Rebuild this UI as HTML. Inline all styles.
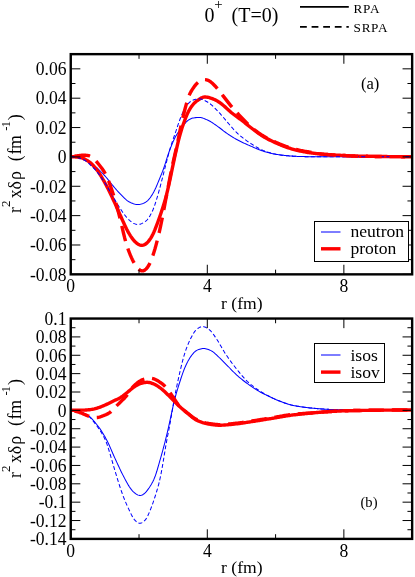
<!DOCTYPE html>
<html><head><meta charset="utf-8"><title>plot</title>
<style>
html,body{margin:0;padding:0;background:#fff;}
body{width:415px;height:577px;overflow:hidden;}
svg{display:block;will-change:transform;}
text{font-family:"Liberation Serif",serif;fill:#000;}
</style></head><body>
<svg width="415" height="577" viewBox="0 0 415 577">
<rect width="415" height="577" fill="#fff"/>
<text x="204.5" y="21.7" font-size="20">0</text>
<text x="214.2" y="9.4" font-size="14.8">+</text>
<text x="231.5" y="21.7" font-size="20">(T=0)</text>
<path d="M300,6.9H348.8" stroke="#000" stroke-width="1.8"/>
<path d="M300,26.9H348.8" stroke="#000" stroke-width="1.8" stroke-dasharray="6.8 4.8"/>
<text x="353.6" y="12.6" font-size="13.2" letter-spacing="0.7">RPA</text>
<text x="353.6" y="31.6" font-size="13.2" letter-spacing="0.7">SRPA</text>
<clipPath id="c1"><rect x="70.75" y="54.15" width="341.4" height="220.20000000000002"/></clipPath>
<g clip-path="url(#c1)" fill="none" stroke-linejoin="round">
<path d="M71.00,156.69 L71.97,156.72 L72.95,156.78 L73.92,156.87 L74.90,156.99 L75.87,157.14 L76.85,157.32 L77.82,157.51 L78.80,157.72 L79.77,157.94 L80.75,158.17 L81.72,158.43 L82.70,158.71 L83.67,159.05 L84.65,159.46 L85.62,159.93 L86.60,160.45 L87.57,161.03 L88.55,161.64 L89.52,162.29 L90.50,162.96 L91.47,163.66 L92.45,164.36 L93.42,165.07 L94.40,165.80 L95.37,166.56 L96.35,167.37 L97.32,168.22 L98.30,169.12 L99.27,170.05 L100.25,171.01 L101.22,172.00 L102.20,173.01 L103.17,174.03 L104.15,175.08 L105.12,176.14 L106.10,177.25 L107.07,178.40 L108.05,179.59 L109.02,180.82 L110.00,182.05 L110.97,183.28 L111.95,184.49 L112.92,185.67 L113.90,186.82 L114.87,187.96 L115.85,189.10 L116.82,190.22 L117.80,191.32 L118.77,192.39 L119.75,193.43 L120.72,194.43 L121.70,195.40 L122.67,196.36 L123.65,197.32 L124.62,198.26 L125.60,199.17 L126.57,200.03 L127.55,200.80 L128.52,201.47 L129.50,202.04 L130.47,202.52 L131.45,202.94 L132.42,203.32 L133.40,203.68 L134.37,204.00 L135.35,204.26 L136.32,204.45 L137.30,204.56 L138.27,204.58 L139.25,204.51 L140.22,204.34 L141.20,204.09 L142.17,203.77 L143.15,203.40 L144.12,202.98 L145.10,202.50 L146.07,201.93 L147.05,201.20 L148.02,200.28 L149.00,199.18 L149.97,197.95 L150.95,196.59 L151.92,195.12 L152.90,193.51 L153.87,191.75 L154.85,189.83 L155.82,187.74 L156.80,185.48 L157.77,183.12 L158.75,180.71 L159.72,178.34 L160.70,176.00 L161.67,173.63 L162.65,171.16 L163.62,168.49 L164.60,165.61 L165.57,162.56 L166.55,159.45 L167.52,156.40 L168.50,153.50 L169.47,150.77 L170.45,148.18 L171.42,145.71 L172.40,143.34 L173.37,141.10 L174.35,139.01 L175.32,137.10 L176.30,135.36 L177.27,133.79 L178.25,132.35 L179.22,131.00 L180.20,129.71 L181.17,128.45 L182.15,127.17 L183.12,125.87 L184.10,124.56 L185.07,123.31 L186.05,122.19 L187.02,121.23 L188.00,120.43 L188.97,119.75 L189.95,119.17 L190.92,118.71 L191.90,118.35 L192.87,118.10 L193.85,117.91 L194.82,117.76 L195.80,117.63 L196.77,117.52 L197.75,117.44 L198.72,117.40 L199.70,117.43 L200.67,117.54 L201.65,117.73 L202.62,118.01 L203.60,118.36 L204.57,118.76 L205.55,119.18 L206.52,119.61 L207.50,120.06 L208.47,120.52 L209.45,121.01 L210.42,121.55 L211.40,122.14 L212.37,122.76 L213.35,123.41 L214.32,124.08 L215.30,124.76 L216.27,125.44 L217.25,126.12 L218.22,126.81 L219.20,127.52 L220.17,128.25 L221.15,129.00 L222.12,129.76 L223.10,130.53 L224.07,131.28 L225.05,132.02 L226.02,132.73 L227.00,133.43 L227.97,134.10 L228.95,134.75 L229.92,135.39 L230.90,136.03 L231.87,136.65 L232.85,137.26 L233.82,137.85 L234.80,138.43 L235.77,138.98 L236.75,139.52 L237.72,140.05 L238.70,140.56 L239.67,141.05 L240.65,141.54 L241.62,142.01 L242.60,142.48 L243.57,142.93 L244.55,143.38 L245.52,143.83 L246.50,144.26 L247.47,144.69 L248.45,145.12 L249.42,145.55 L250.40,145.97 L251.37,146.40 L252.35,146.83 L253.32,147.26 L254.30,147.68 L255.27,148.10 L256.25,148.52 L257.22,148.93 L258.20,149.33 L259.17,149.71 L260.15,150.09 L261.12,150.45 L262.10,150.79 L263.07,151.11 L264.05,151.41 L265.02,151.71 L266.00,151.99 L266.97,152.26 L267.95,152.52 L268.92,152.78 L269.90,153.03 L270.87,153.26 L271.85,153.49 L272.82,153.70 L273.80,153.90 L274.77,154.08 L275.75,154.26 L276.72,154.42 L277.70,154.57 L278.67,154.72 L279.65,154.86 L280.62,155.00 L281.60,155.13 L282.57,155.25 L283.55,155.36 L284.52,155.47 L285.50,155.57 L286.47,155.67 L287.45,155.75 L288.42,155.83 L289.40,155.91 L290.37,155.98 L291.35,156.05 L292.32,156.12 L293.30,156.19 L294.27,156.25 L295.25,156.30 L296.22,156.36 L297.20,156.40 L298.17,156.44 L299.15,156.47 L300.12,156.50 L301.10,156.53 L302.07,156.55 L303.05,156.57 L304.02,156.60 L305.00,156.62 L305.97,156.64 L306.95,156.66 L307.92,156.68 L308.90,156.69 L309.87,156.71 L310.85,156.73 L311.82,156.74 L312.80,156.75 L313.77,156.76 L314.75,156.77 L315.72,156.78 L316.70,156.79 L317.67,156.79 L318.65,156.80 L319.62,156.80 L320.60,156.80 L321.57,156.80 L322.55,156.80 L323.52,156.80 L324.50,156.80 L325.47,156.80 L326.45,156.80 L327.42,156.80 L328.40,156.80 L329.37,156.80 L330.35,156.80 L331.32,156.80 L332.30,156.80 L333.27,156.80 L334.25,156.80 L335.22,156.80 L336.20,156.80 L337.17,156.80 L338.15,156.80 L339.12,156.80 L340.10,156.80 L341.07,156.80 L342.05,156.80 L343.02,156.80 L343.99,156.80 L344.97,156.80 L345.94,156.80 L346.92,156.80 L347.89,156.80 L348.87,156.80 L349.84,156.80 L350.82,156.80 L351.79,156.80 L352.77,156.80 L353.74,156.80 L354.72,156.80 L355.69,156.79 L356.67,156.79 L357.64,156.79 L358.62,156.79 L359.59,156.79 L360.57,156.79 L361.54,156.79 L362.52,156.79 L363.49,156.79 L364.47,156.79 L365.44,156.79 L366.42,156.78 L367.39,156.78 L368.37,156.78 L369.34,156.78 L370.32,156.78 L371.29,156.78 L372.27,156.78 L373.24,156.78 L374.22,156.77 L375.19,156.77 L376.17,156.77 L377.14,156.77 L378.12,156.77 L379.09,156.77 L380.07,156.77 L381.04,156.76 L382.02,156.76 L382.99,156.76 L383.97,156.76 L384.94,156.76 L385.92,156.76 L386.89,156.75 L387.87,156.75 L388.84,156.75 L389.82,156.75 L390.79,156.75 L391.77,156.75 L392.74,156.74 L393.72,156.74 L394.69,156.74 L395.67,156.74 L396.64,156.74 L397.62,156.73 L398.59,156.73 L399.57,156.73 L400.54,156.73 L401.52,156.72 L402.49,156.72 L403.47,156.72 L404.44,156.72 L405.42,156.72 L406.39,156.71 L407.37,156.71 L408.34,156.71 L409.32,156.71 L410.29,156.70 L411.27,156.70" stroke="#00f" stroke-width="1.02"/>
<path d="M71.00,156.70 L71.97,156.72 L72.95,156.75 L73.92,156.80 L74.90,156.88 L75.87,156.97 L76.85,157.07 L77.82,157.18 L78.80,157.31 L79.77,157.46 L80.75,157.66 L81.72,157.92 L82.70,158.25 L83.67,158.65 L84.65,159.11 L85.62,159.61 L86.60,160.16 L87.57,160.74 L88.55,161.37 L89.52,162.07 L90.50,162.86 L91.47,163.74 L92.45,164.71 L93.42,165.75 L94.40,166.85 L95.37,167.99 L96.35,169.18 L97.32,170.45 L98.30,171.79 L99.27,173.23 L100.25,174.76 L101.22,176.36 L102.20,178.02 L103.17,179.72 L104.15,181.45 L105.12,183.21 L106.10,185.01 L107.07,186.87 L108.05,188.79 L109.02,190.75 L110.00,192.76 L110.97,194.79 L111.95,196.84 L112.92,198.91 L113.90,201.01 L114.87,203.14 L115.85,205.32 L116.82,207.52 L117.80,209.73 L118.77,211.94 L119.75,214.13 L120.72,216.30 L121.70,218.45 L122.67,220.60 L123.65,222.74 L124.62,224.87 L125.60,226.94 L126.57,228.93 L127.55,230.81 L128.52,232.57 L129.50,234.24 L130.47,235.82 L131.45,237.31 L132.42,238.67 L133.40,239.91 L134.37,241.01 L135.35,241.98 L136.32,242.84 L137.30,243.59 L138.27,244.21 L139.25,244.72 L140.22,245.10 L141.20,245.31 L142.17,245.33 L143.15,245.16 L144.12,244.83 L145.10,244.36 L146.07,243.72 L147.05,242.89 L148.02,241.88 L149.00,240.71 L149.97,239.36 L150.95,237.84 L151.92,236.13 L152.90,234.24 L153.87,232.17 L154.85,229.92 L155.82,227.48 L156.80,224.90 L157.77,222.23 L158.75,219.50 L159.72,216.74 L160.70,213.94 L161.67,211.07 L162.65,208.11 L163.62,205.04 L164.60,201.82 L165.57,198.40 L166.55,194.71 L167.52,190.70 L168.50,186.41 L169.47,181.90 L170.45,177.30 L171.42,172.64 L172.40,167.97 L173.37,163.30 L174.35,158.68 L175.32,154.16 L176.30,149.76 L177.27,145.51 L178.25,141.42 L179.22,137.57 L180.20,133.98 L181.17,130.66 L182.15,127.58 L183.12,124.69 L184.10,121.97 L185.07,119.38 L186.05,116.90 L187.02,114.57 L188.00,112.44 L188.97,110.53 L189.95,108.85 L190.92,107.35 L191.90,105.99 L192.87,104.75 L193.85,103.62 L194.82,102.62 L195.80,101.74 L196.77,100.96 L197.75,100.26 L198.72,99.59 L199.70,98.96 L200.67,98.38 L201.65,97.88 L202.62,97.48 L203.60,97.19 L204.57,97.04 L205.55,97.01 L206.52,97.09 L207.50,97.24 L208.47,97.45 L209.45,97.71 L210.42,98.01 L211.40,98.35 L212.37,98.70 L213.35,99.08 L214.32,99.47 L215.30,99.90 L216.27,100.38 L217.25,100.93 L218.22,101.56 L219.20,102.24 L220.17,102.96 L221.15,103.70 L222.12,104.46 L223.10,105.23 L224.07,106.04 L225.05,106.88 L226.02,107.75 L227.00,108.64 L227.97,109.54 L228.95,110.44 L229.92,111.31 L230.90,112.16 L231.87,112.97 L232.85,113.75 L233.82,114.49 L234.80,115.22 L235.77,115.94 L236.75,116.64 L237.72,117.34 L238.70,118.05 L239.67,118.76 L240.65,119.48 L241.62,120.22 L242.60,120.98 L243.57,121.75 L244.55,122.54 L245.52,123.33 L246.50,124.13 L247.47,124.92 L248.45,125.72 L249.42,126.50 L250.40,127.27 L251.37,128.02 L252.35,128.76 L253.32,129.50 L254.30,130.23 L255.27,130.96 L256.25,131.68 L257.22,132.40 L258.20,133.10 L259.17,133.80 L260.15,134.47 L261.12,135.13 L262.10,135.77 L263.07,136.38 L264.05,136.97 L265.02,137.53 L266.00,138.08 L266.97,138.61 L267.95,139.12 L268.92,139.62 L269.90,140.11 L270.87,140.59 L271.85,141.06 L272.82,141.51 L273.80,141.96 L274.77,142.41 L275.75,142.84 L276.72,143.28 L277.70,143.70 L278.67,144.13 L279.65,144.55 L280.62,144.96 L281.60,145.36 L282.57,145.76 L283.55,146.14 L284.52,146.51 L285.50,146.87 L286.47,147.22 L287.45,147.55 L288.42,147.87 L289.40,148.18 L290.37,148.47 L291.35,148.76 L292.32,149.04 L293.30,149.32 L294.27,149.58 L295.25,149.84 L296.22,150.08 L297.20,150.32 L298.17,150.55 L299.15,150.77 L300.12,150.98 L301.10,151.19 L302.07,151.39 L303.05,151.58 L304.02,151.77 L305.00,151.95 L305.97,152.13 L306.95,152.30 L307.92,152.46 L308.90,152.62 L309.87,152.76 L310.85,152.90 L311.82,153.04 L312.80,153.16 L313.77,153.28 L314.75,153.40 L315.72,153.50 L316.70,153.61 L317.67,153.71 L318.65,153.81 L319.62,153.90 L320.60,153.99 L321.57,154.07 L322.55,154.16 L323.52,154.24 L324.50,154.32 L325.47,154.39 L326.45,154.46 L327.42,154.53 L328.40,154.60 L329.37,154.67 L330.35,154.73 L331.32,154.80 L332.30,154.86 L333.27,154.92 L334.25,154.98 L335.22,155.04 L336.20,155.09 L337.17,155.15 L338.15,155.20 L339.12,155.25 L340.10,155.31 L341.07,155.36 L342.05,155.41 L343.02,155.46 L343.99,155.52 L344.97,155.57 L345.94,155.63 L346.92,155.68 L347.89,155.73 L348.87,155.78 L349.84,155.83 L350.82,155.88 L351.79,155.93 L352.77,155.97 L353.74,156.01 L354.72,156.05 L355.69,156.08 L356.67,156.12 L357.64,156.15 L358.62,156.17 L359.59,156.19 L360.57,156.21 L361.54,156.23 L362.52,156.24 L363.49,156.26 L364.47,156.28 L365.44,156.29 L366.42,156.31 L367.39,156.32 L368.37,156.34 L369.34,156.35 L370.32,156.37 L371.29,156.38 L372.27,156.40 L373.24,156.41 L374.22,156.42 L375.19,156.44 L376.17,156.45 L377.14,156.46 L378.12,156.47 L379.09,156.49 L380.07,156.50 L381.04,156.51 L382.02,156.52 L382.99,156.53 L383.97,156.54 L384.94,156.55 L385.92,156.56 L386.89,156.57 L387.87,156.58 L388.84,156.59 L389.82,156.60 L390.79,156.61 L391.77,156.62 L392.74,156.62 L393.72,156.63 L394.69,156.64 L395.67,156.64 L396.64,156.65 L397.62,156.66 L398.59,156.66 L399.57,156.67 L400.54,156.67 L401.52,156.68 L402.49,156.68 L403.47,156.68 L404.44,156.69 L405.42,156.69 L406.39,156.69 L407.37,156.70 L408.34,156.70 L409.32,156.70 L410.29,156.70 L411.27,156.70" stroke="#f00" stroke-width="3.4"/>
<path d="M71.00,156.69 L71.97,156.73 L72.95,156.80 L73.92,156.92 L74.90,157.07 L75.87,157.26 L76.85,157.48 L77.82,157.73 L78.80,158.00 L79.77,158.28 L80.75,158.58 L81.72,158.90 L82.70,159.28 L83.67,159.73 L84.65,160.27 L85.62,160.90 L86.60,161.61 L87.57,162.39 L88.55,163.23 L89.52,164.12 L90.50,165.04 L91.47,165.98 L92.45,166.94 L93.42,167.91 L94.40,168.91 L95.37,169.96 L96.35,171.06 L97.32,172.24 L98.30,173.47 L99.27,174.75 L100.25,176.08 L101.22,177.45 L102.20,178.85 L103.17,180.27 L104.15,181.72 L105.12,183.20 L106.10,184.73 L107.07,186.33 L108.05,187.99 L109.02,189.69 L110.00,191.42 L110.97,193.14 L111.95,194.85 L112.92,196.53 L113.90,198.18 L114.87,199.84 L115.85,201.49 L116.82,203.13 L117.80,204.75 L118.77,206.34 L119.75,207.88 L120.72,209.36 L121.70,210.79 L122.67,212.17 L123.65,213.51 L124.62,214.81 L125.60,216.05 L126.57,217.22 L127.55,218.32 L128.52,219.35 L129.50,220.32 L130.47,221.21 L131.45,222.00 L132.42,222.66 L133.40,223.20 L134.37,223.64 L135.35,223.99 L136.32,224.27 L137.30,224.44 L138.27,224.47 L139.25,224.37 L140.22,224.15 L141.20,223.80 L142.17,223.37 L143.15,222.86 L144.12,222.30 L145.10,221.67 L146.07,220.92 L147.05,220.00 L148.02,218.85 L149.00,217.46 L149.97,215.87 L150.95,214.10 L151.92,212.14 L152.90,209.95 L153.87,207.47 L154.85,204.74 L155.82,201.79 L156.80,198.67 L157.77,195.39 L158.75,191.94 L159.72,188.34 L160.70,184.64 L161.67,180.89 L162.65,177.11 L163.62,173.30 L164.60,169.47 L165.57,165.65 L166.55,161.83 L167.52,158.05 L168.50,154.34 L169.47,150.79 L170.45,147.45 L171.42,144.32 L172.40,141.37 L173.37,138.54 L174.35,135.74 L175.32,132.92 L176.30,130.04 L177.27,127.11 L178.25,124.20 L179.22,121.39 L180.20,118.76 L181.17,116.31 L182.15,114.01 L183.12,111.84 L184.10,109.83 L185.07,108.00 L186.05,106.41 L187.02,105.05 L188.00,103.88 L188.97,102.86 L189.95,101.97 L190.92,101.24 L191.90,100.65 L192.87,100.20 L193.85,99.85 L194.82,99.54 L195.80,99.28 L196.77,99.06 L197.75,98.90 L198.72,98.82 L199.70,98.83 L200.67,98.95 L201.65,99.19 L202.62,99.52 L203.60,99.94 L204.57,100.41 L205.55,100.93 L206.52,101.46 L207.50,102.02 L208.47,102.61 L209.45,103.27 L210.42,104.00 L211.40,104.82 L212.37,105.69 L213.35,106.62 L214.32,107.58 L215.30,108.56 L216.27,109.54 L217.25,110.54 L218.22,111.55 L219.20,112.59 L220.17,113.67 L221.15,114.79 L222.12,115.93 L223.10,117.08 L224.07,118.25 L225.05,119.40 L226.02,120.55 L227.00,121.68 L227.97,122.82 L228.95,123.96 L229.92,125.11 L230.90,126.26 L231.87,127.41 L232.85,128.54 L233.82,129.64 L234.80,130.69 L235.77,131.69 L236.75,132.64 L237.72,133.54 L238.70,134.42 L239.67,135.26 L240.65,136.09 L241.62,136.89 L242.60,137.67 L243.57,138.44 L244.55,139.18 L245.52,139.90 L246.50,140.61 L247.47,141.30 L248.45,141.97 L249.42,142.62 L250.40,143.26 L251.37,143.89 L252.35,144.52 L253.32,145.14 L254.30,145.75 L255.27,146.35 L256.25,146.93 L257.22,147.50 L258.20,148.05 L259.17,148.58 L260.15,149.08 L261.12,149.56 L262.10,150.01 L263.07,150.43 L264.05,150.82 L265.02,151.19 L266.00,151.54 L266.97,151.88 L267.95,152.21 L268.92,152.53 L269.90,152.83 L270.87,153.11 L271.85,153.38 L272.82,153.63 L273.80,153.86 L274.77,154.06 L275.75,154.25 L276.72,154.43 L277.70,154.59 L278.67,154.74 L279.65,154.88 L280.62,155.01 L281.60,155.14 L282.57,155.26 L283.55,155.38 L284.52,155.48 L285.50,155.58 L286.47,155.67 L287.45,155.75 L288.42,155.83 L289.40,155.91 L290.37,155.98 L291.35,156.05 L292.32,156.12 L293.30,156.19 L294.27,156.25 L295.25,156.30 L296.22,156.36 L297.20,156.40 L298.17,156.44 L299.15,156.47 L300.12,156.50 L301.10,156.53 L302.07,156.55 L303.05,156.57 L304.02,156.60 L305.00,156.62 L305.97,156.64 L306.95,156.66 L307.92,156.68 L308.90,156.69 L309.87,156.71 L310.85,156.73 L311.82,156.74 L312.80,156.75 L313.77,156.76 L314.75,156.77 L315.72,156.78 L316.70,156.79 L317.67,156.79 L318.65,156.80 L319.62,156.80 L320.60,156.80 L321.57,156.80 L322.55,156.80 L323.52,156.80 L324.50,156.80 L325.47,156.80 L326.45,156.80 L327.42,156.80 L328.40,156.80 L329.37,156.80 L330.35,156.80 L331.32,156.80 L332.30,156.80 L333.27,156.80 L334.25,156.80 L335.22,156.80 L336.20,156.80 L337.17,156.80 L338.15,156.80 L339.12,156.80 L340.10,156.80 L341.07,156.80 L342.05,156.80 L343.02,156.80 L343.99,156.80 L344.97,156.80 L345.94,156.80 L346.92,156.80 L347.89,156.80 L348.87,156.80 L349.84,156.80 L350.82,156.80 L351.79,156.80 L352.77,156.80 L353.74,156.80 L354.72,156.79 L355.69,156.79 L356.67,156.79 L357.64,156.79 L358.62,156.79 L359.59,156.79 L360.57,156.79 L361.54,156.79 L362.52,156.79 L363.49,156.79 L364.47,156.79 L365.44,156.79 L366.42,156.79 L367.39,156.79 L368.37,156.79 L369.34,156.78 L370.32,156.78 L371.29,156.78 L372.27,156.78 L373.24,156.78 L374.22,156.78 L375.19,156.78 L376.17,156.78 L377.14,156.78 L378.12,156.77 L379.09,156.77 L380.07,156.77 L381.04,156.77 L382.02,156.77 L382.99,156.77 L383.97,156.77 L384.94,156.76 L385.92,156.76 L386.89,156.76 L387.87,156.76 L388.84,156.76 L389.82,156.76 L390.79,156.75 L391.77,156.75 L392.74,156.75 L393.72,156.75 L394.69,156.75 L395.67,156.74 L396.64,156.74 L397.62,156.74 L398.59,156.74 L399.57,156.74 L400.54,156.73 L401.52,156.73 L402.49,156.73 L403.47,156.73 L404.44,156.72 L405.42,156.72 L406.39,156.72 L407.37,156.71 L408.34,156.71 L409.32,156.71 L410.29,156.71 L411.27,156.70" stroke="#00f" stroke-width="1.02" stroke-dasharray="4 2.3"/>
<path d="M71.00,156.67 L71.97,156.54 L72.95,156.39 L73.92,156.24 L74.90,156.09 L75.87,155.95 L76.85,155.83 L77.82,155.72 L78.80,155.61 L79.77,155.50 L80.75,155.39 L81.72,155.31 L82.70,155.24 L83.67,155.21 L84.65,155.21 L85.62,155.26 L86.60,155.34 L87.57,155.47 L88.55,155.68 L89.52,155.99 L90.50,156.41 L91.47,156.96 L92.45,157.63 L93.42,158.42 L94.40,159.33 L95.37,160.33 L96.35,161.41 L97.32,162.57 L98.30,163.78 L99.27,165.02 L100.25,166.27 L101.22,167.53 L102.20,168.82 L103.17,170.20 L104.15,171.72 L105.12,173.42 L106.10,175.31 L107.07,177.38 L108.05,179.63 L109.02,182.07 L110.00,184.68 L110.97,187.44 L111.95,190.33 L112.92,193.33 L113.90,196.43 L114.87,199.65 L115.85,202.97 L116.82,206.39 L117.80,209.90 L118.77,213.53 L119.75,217.29 L120.72,221.22 L121.70,225.35 L122.67,229.58 L123.65,233.76 L124.62,237.72 L125.60,241.35 L126.57,244.65 L127.55,247.66 L128.52,250.43 L129.50,253.00 L130.47,255.40 L131.45,257.63 L132.42,259.70 L133.40,261.62 L134.37,263.41 L135.35,265.05 L136.32,266.51 L137.30,267.75 L138.27,268.76 L139.25,269.59 L140.22,270.25 L141.20,270.72 L142.17,270.92 L143.15,270.83 L144.12,270.45 L145.10,269.82 L146.07,268.99 L147.05,267.93 L148.02,266.59 L149.00,264.90 L149.97,262.88 L150.95,260.59 L151.92,258.09 L152.90,255.40 L153.87,252.48 L154.85,249.30 L155.82,245.85 L156.80,242.18 L157.77,238.32 L158.75,234.31 L159.72,230.11 L160.70,225.70 L161.67,221.02 L162.65,216.08 L163.62,210.96 L164.60,205.75 L165.57,200.54 L166.55,195.38 L167.52,190.28 L168.50,185.20 L169.47,180.14 L170.45,175.14 L171.42,170.27 L172.40,165.57 L173.37,161.08 L174.35,156.78 L175.32,152.56 L176.30,148.31 L177.27,143.90 L178.25,139.27 L179.22,134.46 L180.20,129.61 L181.17,124.91 L182.15,120.48 L183.12,116.35 L184.10,112.48 L185.07,108.76 L186.05,105.16 L187.02,101.70 L188.00,98.53 L188.97,95.80 L189.95,93.58 L190.92,91.76 L191.90,90.16 L192.87,88.66 L193.85,87.21 L194.82,85.85 L195.80,84.61 L196.77,83.55 L197.75,82.65 L198.72,81.88 L199.70,81.23 L200.67,80.68 L201.65,80.21 L202.62,79.84 L203.60,79.61 L204.57,79.54 L205.55,79.62 L206.52,79.82 L207.50,80.11 L208.47,80.51 L209.45,81.04 L210.42,81.70 L211.40,82.48 L212.37,83.34 L213.35,84.25 L214.32,85.21 L215.30,86.22 L216.27,87.31 L217.25,88.47 L218.22,89.68 L219.20,90.93 L220.17,92.18 L221.15,93.43 L222.12,94.67 L223.10,95.90 L224.07,97.13 L225.05,98.38 L226.02,99.63 L227.00,100.89 L227.97,102.14 L228.95,103.38 L229.92,104.60 L230.90,105.80 L231.87,106.96 L232.85,108.10 L233.82,109.21 L234.80,110.31 L235.77,111.39 L236.75,112.46 L237.72,113.51 L238.70,114.55 L239.67,115.58 L240.65,116.61 L241.62,117.63 L242.60,118.65 L243.57,119.67 L244.55,120.69 L245.52,121.71 L246.50,122.72 L247.47,123.71 L248.45,124.67 L249.42,125.61 L250.40,126.50 L251.37,127.36 L252.35,128.19 L253.32,128.98 L254.30,129.74 L255.27,130.49 L256.25,131.22 L257.22,131.93 L258.20,132.62 L259.17,133.29 L260.15,133.94 L261.12,134.58 L262.10,135.19 L263.07,135.79 L264.05,136.37 L265.02,136.93 L266.00,137.48 L266.97,138.01 L267.95,138.52 L268.92,139.02 L269.90,139.51 L270.87,139.99 L271.85,140.46 L272.82,140.91 L273.80,141.36 L274.77,141.81 L275.75,142.24 L276.72,142.68 L277.70,143.10 L278.67,143.53 L279.65,143.95 L280.62,144.36 L281.60,144.76 L282.57,145.16 L283.55,145.54 L284.52,145.91 L285.50,146.27 L286.47,146.62 L287.45,146.95 L288.42,147.27 L289.40,147.58 L290.37,147.87 L291.35,148.16 L292.32,148.44 L293.30,148.72 L294.27,148.98 L295.25,149.24 L296.22,149.49 L297.20,149.72 L298.17,149.95 L299.15,150.17 L300.12,150.38 L301.10,150.58 L302.07,150.78 L303.05,150.96 L304.02,151.14 L305.00,151.31 L305.97,151.48 L306.95,151.64 L307.92,151.80 L308.90,151.96 L309.87,152.11 L310.85,152.27 L311.82,152.42 L312.80,152.58 L313.77,152.74 L314.75,152.91 L315.72,153.07 L316.70,153.24 L317.67,153.40 L318.65,153.56 L319.62,153.71 L320.60,153.86 L321.57,153.99 L322.55,154.11 L323.52,154.22 L324.50,154.32 L325.47,154.40 L326.45,154.48 L327.42,154.56 L328.40,154.63 L329.37,154.70 L330.35,154.76 L331.32,154.82 L332.30,154.88 L333.27,154.94 L334.25,154.99 L335.22,155.05 L336.20,155.10 L337.17,155.15 L338.15,155.20 L339.12,155.25 L340.10,155.31 L341.07,155.36 L342.05,155.41 L343.02,155.46 L343.99,155.52 L344.97,155.57 L345.94,155.63 L346.92,155.68 L347.89,155.73 L348.87,155.78 L349.84,155.83 L350.82,155.88 L351.79,155.93 L352.77,155.97 L353.74,156.01 L354.72,156.05 L355.69,156.08 L356.67,156.12 L357.64,156.15 L358.62,156.17 L359.59,156.19 L360.57,156.21 L361.54,156.23 L362.52,156.24 L363.49,156.26 L364.47,156.28 L365.44,156.29 L366.42,156.31 L367.39,156.32 L368.37,156.34 L369.34,156.35 L370.32,156.37 L371.29,156.38 L372.27,156.40 L373.24,156.41 L374.22,156.42 L375.19,156.44 L376.17,156.45 L377.14,156.46 L378.12,156.47 L379.09,156.49 L380.07,156.50 L381.04,156.51 L382.02,156.52 L382.99,156.53 L383.97,156.54 L384.94,156.55 L385.92,156.56 L386.89,156.57 L387.87,156.58 L388.84,156.59 L389.82,156.60 L390.79,156.61 L391.77,156.62 L392.74,156.62 L393.72,156.63 L394.69,156.64 L395.67,156.64 L396.64,156.65 L397.62,156.66 L398.59,156.66 L399.57,156.67 L400.54,156.67 L401.52,156.68 L402.49,156.68 L403.47,156.68 L404.44,156.69 L405.42,156.69 L406.39,156.69 L407.37,156.70 L408.34,156.70 L409.32,156.70 L410.29,156.70 L411.27,156.70" stroke="#f00" stroke-width="3.4" stroke-dasharray="15.7 7.8" stroke-dashoffset="-3.5"/>
</g>
<path d="M70.75,274.35v-9.6 M70.75,54.15v9.6 M207.31,274.35v-9.6 M207.31,54.15v9.6 M343.87,274.35v-9.6 M343.87,54.15v9.6 M139.03,274.35v-4.7 M139.03,54.15v4.7 M275.59,274.35v-4.7 M275.59,54.15v4.7 M412.15,274.35v-4.7 M412.15,54.15v4.7 M70.75,274.35h9.6 M412.15,274.35h-9.6 M70.75,259.67h4.7 M412.15,259.67h-4.7 M70.75,244.99h9.6 M412.15,244.99h-9.6 M70.75,230.31h4.7 M412.15,230.31h-4.7 M70.75,215.63h9.6 M412.15,215.63h-9.6 M70.75,200.95h4.7 M412.15,200.95h-4.7 M70.75,186.27h9.6 M412.15,186.27h-9.6 M70.75,171.59h4.7 M412.15,171.59h-4.7 M70.75,156.91h9.6 M412.15,156.91h-9.6 M70.75,142.23h4.7 M412.15,142.23h-4.7 M70.75,127.55h9.6 M412.15,127.55h-9.6 M70.75,112.87h4.7 M412.15,112.87h-4.7 M70.75,98.19h9.6 M412.15,98.19h-9.6 M70.75,83.51h4.7 M412.15,83.51h-4.7 M70.75,68.83h9.6 M412.15,68.83h-9.6 M70.75,54.15h4.7 M412.15,54.15h-4.7" stroke="#000" stroke-width="1" fill="none"/>
<rect x="70.75" y="54.15" width="341.4" height="220.20000000000002" fill="none" stroke="#000" stroke-width="2.4"/>
<text transform="translate(66.5,75.13) scale(0.945,1)" font-size="18.6" text-anchor="end">0.06</text>
<text transform="translate(66.5,104.49) scale(0.945,1)" font-size="18.6" text-anchor="end">0.04</text>
<text transform="translate(66.5,133.85) scale(0.945,1)" font-size="18.6" text-anchor="end">0.02</text>
<text transform="translate(66.5,163.21) scale(0.945,1)" font-size="18.6" text-anchor="end">0</text>
<text transform="translate(66.5,192.57) scale(0.945,1)" font-size="18.6" text-anchor="end">-0.02</text>
<text transform="translate(66.5,221.93) scale(0.945,1)" font-size="18.6" text-anchor="end">-0.04</text>
<text transform="translate(66.5,251.29) scale(0.945,1)" font-size="18.6" text-anchor="end">-0.06</text>
<text transform="translate(66.5,280.65) scale(0.945,1)" font-size="18.6" text-anchor="end">-0.08</text>
<text transform="translate(70.75,291.95) scale(0.945,1)" font-size="18.6" text-anchor="middle">0</text>
<text transform="translate(207.31,291.95) scale(0.945,1)" font-size="18.6" text-anchor="middle">4</text>
<text transform="translate(343.87,291.95) scale(0.945,1)" font-size="18.6" text-anchor="middle">8</text>
<text x="241.8" y="308.5" font-size="17.6" text-anchor="middle">r (fm)</text>
<text x="370.1" y="88.8" font-size="16.6" text-anchor="middle">(a)</text>
<rect x="314.5" y="221.5" width="94" height="40" fill="#fff" stroke="#000" stroke-width="1"/>
<path d="M321,232H340.5" stroke="#00f" stroke-width="1.02"/>
<path d="M321,248.8H340.5" stroke="#f00" stroke-width="3.4"/>
<text x="350.4" y="236.9" font-size="17.6">neutron</text>
<text x="350.4" y="253.5" font-size="17.6">proton</text>
<g transform="translate(21.2,213) rotate(-90)"><text x="-0.1" y="0" font-size="17.8">r</text><text x="5.9" y="-11" font-size="13">2</text><text x="14.8" y="0" font-size="17.8">x</text><text x="23.5" y="0" font-size="17.8">&#948;</text><text x="33.1" y="0" font-size="17.8">&#961;</text><text x="51.7" y="0" font-size="17.8">(</text><text x="58.4" y="0" font-size="17.8">f</text><text x="64.0" y="0" font-size="17.8">m</text><text x="82.2" y="-11" font-size="13">-</text><text x="85.4" y="-11" font-size="13">1</text><text x="92.8" y="0" font-size="17.8">)</text></g>
<clipPath id="c2"><rect x="70.75" y="318.55" width="341.4" height="220.34999999999997"/></clipPath>
<g clip-path="url(#c2)" fill="none" stroke-linejoin="round">
<path d="M71.00,409.79 L71.97,409.83 L72.95,409.91 L73.92,410.03 L74.90,410.20 L75.87,410.41 L76.85,410.65 L77.82,410.94 L78.80,411.25 L79.77,411.60 L80.75,411.97 L81.72,412.37 L82.70,412.78 L83.67,413.21 L84.65,413.65 L85.62,414.11 L86.60,414.60 L87.57,415.17 L88.55,415.82 L89.52,416.58 L90.50,417.45 L91.47,418.40 L92.45,419.43 L93.42,420.52 L94.40,421.65 L95.37,422.82 L96.35,424.01 L97.32,425.22 L98.30,426.47 L99.27,427.78 L100.25,429.16 L101.22,430.62 L102.20,432.16 L103.17,433.75 L104.15,435.41 L105.12,437.12 L106.10,438.88 L107.07,440.73 L108.05,442.69 L109.02,444.76 L110.00,446.92 L110.97,449.16 L111.95,451.44 L112.92,453.71 L113.90,455.94 L114.87,458.13 L115.85,460.27 L116.82,462.38 L117.80,464.48 L118.77,466.57 L119.75,468.64 L120.72,470.69 L121.70,472.69 L122.67,474.64 L123.65,476.53 L124.62,478.37 L125.60,480.18 L126.57,481.96 L127.55,483.70 L128.52,485.38 L129.50,486.95 L130.47,488.39 L131.45,489.67 L132.42,490.81 L133.40,491.82 L134.37,492.72 L135.35,493.50 L136.32,494.16 L137.30,494.71 L138.27,495.12 L139.25,495.38 L140.22,495.43 L141.20,495.28 L142.17,494.95 L143.15,494.45 L144.12,493.78 L145.10,492.91 L146.07,491.86 L147.05,490.67 L148.02,489.38 L149.00,488.03 L149.97,486.59 L150.95,485.04 L151.92,483.36 L152.90,481.50 L153.87,479.43 L154.85,477.05 L155.82,474.32 L156.80,471.27 L157.77,467.99 L158.75,464.60 L159.72,461.19 L160.70,457.77 L161.67,454.33 L162.65,450.83 L163.62,447.23 L164.60,443.52 L165.57,439.68 L166.55,435.70 L167.52,431.57 L168.50,427.32 L169.47,422.95 L170.45,418.46 L171.42,413.88 L172.40,409.31 L173.37,404.91 L174.35,400.80 L175.32,397.00 L176.30,393.46 L177.27,390.10 L178.25,386.88 L179.22,383.76 L180.20,380.72 L181.17,377.74 L182.15,374.86 L183.12,372.11 L184.10,369.54 L185.07,367.17 L186.05,364.99 L187.02,362.98 L188.00,361.12 L188.97,359.40 L189.95,357.83 L190.92,356.39 L191.90,355.06 L192.87,353.82 L193.85,352.70 L194.82,351.74 L195.80,350.97 L196.77,350.37 L197.75,349.90 L198.72,349.52 L199.70,349.18 L200.67,348.90 L201.65,348.68 L202.62,348.55 L203.60,348.51 L204.57,348.57 L205.55,348.73 L206.52,348.96 L207.50,349.25 L208.47,349.59 L209.45,349.96 L210.42,350.38 L211.40,350.86 L212.37,351.44 L213.35,352.13 L214.32,352.92 L215.30,353.79 L216.27,354.70 L217.25,355.64 L218.22,356.57 L219.20,357.50 L220.17,358.42 L221.15,359.35 L222.12,360.31 L223.10,361.28 L224.07,362.28 L225.05,363.28 L226.02,364.28 L227.00,365.28 L227.97,366.27 L228.95,367.26 L229.92,368.26 L230.90,369.27 L231.87,370.27 L232.85,371.27 L233.82,372.26 L234.80,373.22 L235.77,374.15 L236.75,375.05 L237.72,375.92 L238.70,376.77 L239.67,377.60 L240.65,378.41 L241.62,379.21 L242.60,379.99 L243.57,380.76 L244.55,381.52 L245.52,382.26 L246.50,382.99 L247.47,383.70 L248.45,384.41 L249.42,385.10 L250.40,385.78 L251.37,386.45 L252.35,387.11 L253.32,387.77 L254.30,388.40 L255.27,389.03 L256.25,389.64 L257.22,390.24 L258.20,390.82 L259.17,391.39 L260.15,391.94 L261.12,392.47 L262.10,392.98 L263.07,393.48 L264.05,393.97 L265.02,394.44 L266.00,394.91 L266.97,395.37 L267.95,395.83 L268.92,396.29 L269.90,396.75 L270.87,397.22 L271.85,397.69 L272.82,398.16 L273.80,398.62 L274.77,399.07 L275.75,399.51 L276.72,399.93 L277.70,400.34 L278.67,400.72 L279.65,401.10 L280.62,401.47 L281.60,401.84 L282.57,402.21 L283.55,402.57 L284.52,402.92 L285.50,403.26 L286.47,403.59 L287.45,403.90 L288.42,404.21 L289.40,404.50 L290.37,404.76 L291.35,405.02 L292.32,405.25 L293.30,405.46 L294.27,405.65 L295.25,405.84 L296.22,406.02 L297.20,406.19 L298.17,406.35 L299.15,406.51 L300.12,406.67 L301.10,406.82 L302.07,406.96 L303.05,407.10 L304.02,407.23 L305.00,407.35 L305.97,407.48 L306.95,407.59 L307.92,407.70 L308.90,407.81 L309.87,407.92 L310.85,408.01 L311.82,408.11 L312.80,408.20 L313.77,408.29 L314.75,408.38 L315.72,408.46 L316.70,408.55 L317.67,408.63 L318.65,408.71 L319.62,408.79 L320.60,408.87 L321.57,408.94 L322.55,409.02 L323.52,409.08 L324.50,409.15 L325.47,409.21 L326.45,409.27 L327.42,409.32 L328.40,409.37 L329.37,409.41 L330.35,409.45 L331.32,409.48 L332.30,409.51 L333.27,409.53 L334.25,409.55 L335.22,409.58 L336.20,409.60 L337.17,409.62 L338.15,409.64 L339.12,409.66 L340.10,409.68 L341.07,409.70 L342.05,409.72 L343.02,409.73 L343.99,409.75 L344.97,409.76 L345.94,409.77 L346.92,409.78 L347.89,409.79 L348.87,409.79 L349.84,409.80 L350.82,409.80 L351.79,409.80 L352.77,409.80 L353.74,409.80 L354.72,409.80 L355.69,409.80 L356.67,409.80 L357.64,409.80 L358.62,409.80 L359.59,409.80 L360.57,409.80 L361.54,409.80 L362.52,409.80 L363.49,409.80 L364.47,409.80 L365.44,409.80 L366.42,409.80 L367.39,409.80 L368.37,409.80 L369.34,409.80 L370.32,409.80 L371.29,409.80 L372.27,409.80 L373.24,409.80 L374.22,409.80 L375.19,409.80 L376.17,409.80 L377.14,409.80 L378.12,409.80 L379.09,409.80 L380.07,409.80 L381.04,409.80 L382.02,409.80 L382.99,409.80 L383.97,409.80 L384.94,409.80 L385.92,409.80 L386.89,409.80 L387.87,409.80 L388.84,409.80 L389.82,409.80 L390.79,409.80 L391.77,409.80 L392.74,409.80 L393.72,409.80 L394.69,409.80 L395.67,409.80 L396.64,409.80 L397.62,409.80 L398.59,409.80 L399.57,409.80 L400.54,409.80 L401.52,409.80 L402.49,409.80 L403.47,409.80 L404.44,409.80 L405.42,409.80 L406.39,409.80 L407.37,409.80 L408.34,409.80 L409.32,409.80 L410.29,409.80 L411.27,409.80" stroke="#00f" stroke-width="1.02"/>
<path d="M71.00,409.79 L71.97,409.83 L72.95,409.91 L73.92,410.04 L74.90,410.21 L75.87,410.42 L76.85,410.68 L77.82,410.97 L78.80,411.30 L79.77,411.66 L80.75,412.05 L81.72,412.46 L82.70,412.89 L83.67,413.34 L84.65,413.80 L85.62,414.28 L86.60,414.81 L87.57,415.41 L88.55,416.13 L89.52,416.97 L90.50,417.92 L91.47,418.99 L92.45,420.13 L93.42,421.35 L94.40,422.61 L95.37,423.91 L96.35,425.23 L97.32,426.57 L98.30,427.92 L99.27,429.31 L100.25,430.75 L101.22,432.28 L102.20,433.89 L103.17,435.62 L104.15,437.47 L105.12,439.51 L106.10,441.81 L107.07,444.41 L108.05,447.34 L109.02,450.51 L110.00,453.80 L110.97,457.13 L111.95,460.45 L112.92,463.76 L113.90,467.09 L114.87,470.41 L115.85,473.71 L116.82,476.94 L117.80,480.10 L118.77,483.20 L119.75,486.23 L120.72,489.18 L121.70,492.02 L122.67,494.74 L123.65,497.32 L124.62,499.78 L125.60,502.12 L126.57,504.37 L127.55,506.54 L128.52,508.65 L129.50,510.73 L130.47,512.79 L131.45,514.79 L132.42,516.64 L133.40,518.25 L134.37,519.59 L135.35,520.69 L136.32,521.60 L137.30,522.35 L138.27,522.93 L139.25,523.27 L140.22,523.33 L141.20,523.12 L142.17,522.66 L143.15,522.01 L144.12,521.20 L145.10,520.20 L146.07,518.92 L147.05,517.29 L148.02,515.33 L149.00,513.12 L149.97,510.77 L150.95,508.32 L151.92,505.76 L152.90,503.08 L153.87,500.24 L154.85,497.28 L155.82,494.21 L156.80,491.02 L157.77,487.66 L158.75,484.04 L159.72,480.01 L160.70,475.48 L161.67,470.42 L162.65,464.90 L163.62,459.07 L164.60,453.09 L165.57,447.20 L166.55,441.65 L167.52,436.53 L168.50,431.65 L169.47,426.69 L170.45,421.35 L171.42,415.64 L172.40,409.78 L173.37,404.08 L174.35,398.67 L175.32,393.55 L176.30,388.66 L177.27,383.96 L178.25,379.42 L179.22,375.02 L180.20,370.72 L181.17,366.56 L182.15,362.58 L183.12,358.84 L184.10,355.41 L185.07,352.28 L186.05,349.42 L187.02,346.79 L188.00,344.36 L188.97,342.10 L189.95,340.00 L190.92,338.02 L191.90,336.14 L192.87,334.36 L193.85,332.75 L194.82,331.36 L195.80,330.22 L196.77,329.30 L197.75,328.54 L198.72,327.89 L199.70,327.34 L200.67,326.91 L201.65,326.63 L202.62,326.53 L203.60,326.62 L204.57,326.89 L205.55,327.31 L206.52,327.83 L207.50,328.42 L208.47,329.08 L209.45,329.83 L210.42,330.70 L211.40,331.73 L212.37,332.93 L213.35,334.25 L214.32,335.65 L215.30,337.09 L216.27,338.55 L217.25,340.04 L218.22,341.59 L219.20,343.21 L220.17,344.89 L221.15,346.60 L222.12,348.30 L223.10,349.98 L224.07,351.60 L225.05,353.15 L226.02,354.64 L227.00,356.08 L227.97,357.50 L228.95,358.89 L229.92,360.26 L230.90,361.60 L231.87,362.93 L232.85,364.23 L233.82,365.51 L234.80,366.77 L235.77,368.01 L236.75,369.24 L237.72,370.45 L238.70,371.65 L239.67,372.85 L240.65,374.03 L241.62,375.20 L242.60,376.34 L243.57,377.45 L244.55,378.53 L245.52,379.58 L246.50,380.57 L247.47,381.53 L248.45,382.43 L249.42,383.29 L250.40,384.12 L251.37,384.92 L252.35,385.69 L253.32,386.44 L254.30,387.16 L255.27,387.87 L256.25,388.55 L257.22,389.23 L258.20,389.88 L259.17,390.53 L260.15,391.16 L261.12,391.78 L262.10,392.39 L263.07,392.98 L264.05,393.56 L265.02,394.12 L266.00,394.67 L266.97,395.21 L267.95,395.73 L268.92,396.25 L269.90,396.75 L270.87,397.24 L271.85,397.72 L272.82,398.19 L273.80,398.65 L274.77,399.10 L275.75,399.53 L276.72,399.94 L277.70,400.34 L278.67,400.72 L279.65,401.10 L280.62,401.47 L281.60,401.84 L282.57,402.21 L283.55,402.57 L284.52,402.92 L285.50,403.26 L286.47,403.59 L287.45,403.90 L288.42,404.21 L289.40,404.50 L290.37,404.76 L291.35,405.02 L292.32,405.25 L293.30,405.46 L294.27,405.65 L295.25,405.84 L296.22,406.02 L297.20,406.19 L298.17,406.35 L299.15,406.51 L300.12,406.67 L301.10,406.82 L302.07,406.96 L303.05,407.10 L304.02,407.23 L305.00,407.35 L305.97,407.48 L306.95,407.59 L307.92,407.70 L308.90,407.81 L309.87,407.92 L310.85,408.01 L311.82,408.11 L312.80,408.20 L313.77,408.29 L314.75,408.38 L315.72,408.46 L316.70,408.55 L317.67,408.63 L318.65,408.71 L319.62,408.79 L320.60,408.87 L321.57,408.94 L322.55,409.02 L323.52,409.08 L324.50,409.15 L325.47,409.21 L326.45,409.27 L327.42,409.32 L328.40,409.37 L329.37,409.41 L330.35,409.45 L331.32,409.48 L332.30,409.51 L333.27,409.53 L334.25,409.55 L335.22,409.58 L336.20,409.60 L337.17,409.62 L338.15,409.64 L339.12,409.66 L340.10,409.68 L341.07,409.70 L342.05,409.72 L343.02,409.73 L343.99,409.75 L344.97,409.76 L345.94,409.77 L346.92,409.78 L347.89,409.79 L348.87,409.79 L349.84,409.80 L350.82,409.80 L351.79,409.80 L352.77,409.80 L353.74,409.80 L354.72,409.80 L355.69,409.80 L356.67,409.80 L357.64,409.80 L358.62,409.80 L359.59,409.80 L360.57,409.80 L361.54,409.80 L362.52,409.80 L363.49,409.80 L364.47,409.80 L365.44,409.80 L366.42,409.80 L367.39,409.80 L368.37,409.80 L369.34,409.80 L370.32,409.80 L371.29,409.80 L372.27,409.80 L373.24,409.80 L374.22,409.80 L375.19,409.80 L376.17,409.80 L377.14,409.80 L378.12,409.80 L379.09,409.80 L380.07,409.80 L381.04,409.80 L382.02,409.80 L382.99,409.80 L383.97,409.80 L384.94,409.80 L385.92,409.80 L386.89,409.80 L387.87,409.80 L388.84,409.80 L389.82,409.80 L390.79,409.80 L391.77,409.80 L392.74,409.80 L393.72,409.80 L394.69,409.80 L395.67,409.80 L396.64,409.80 L397.62,409.80 L398.59,409.80 L399.57,409.80 L400.54,409.80 L401.52,409.80 L402.49,409.80 L403.47,409.80 L404.44,409.80 L405.42,409.80 L406.39,409.80 L407.37,409.80 L408.34,409.80 L409.32,409.80 L410.29,409.80 L411.27,409.80" stroke="#00f" stroke-width="1.02" stroke-dasharray="4 2.3"/>
<path d="M71.00,410.20 L71.97,410.20 L72.95,410.20 L73.92,410.20 L74.90,410.20 L75.87,410.20 L76.85,410.20 L77.82,410.20 L78.80,410.20 L79.77,410.19 L80.75,410.18 L81.72,410.16 L82.70,410.15 L83.67,410.12 L84.65,410.09 L85.62,410.05 L86.60,409.99 L87.57,409.91 L88.55,409.81 L89.52,409.70 L90.50,409.57 L91.47,409.43 L92.45,409.27 L93.42,409.08 L94.40,408.85 L95.37,408.59 L96.35,408.31 L97.32,408.01 L98.30,407.70 L99.27,407.38 L100.25,407.03 L101.22,406.67 L102.20,406.28 L103.17,405.88 L104.15,405.46 L105.12,405.04 L106.10,404.60 L107.07,404.15 L108.05,403.68 L109.02,403.20 L110.00,402.71 L110.97,402.22 L111.95,401.72 L112.92,401.24 L113.90,400.77 L114.87,400.32 L115.85,399.89 L116.82,399.45 L117.80,399.00 L118.77,398.52 L119.75,398.00 L120.72,397.43 L121.70,396.79 L122.67,396.09 L123.65,395.34 L124.62,394.57 L125.60,393.79 L126.57,393.00 L127.55,392.21 L128.52,391.41 L129.50,390.60 L130.47,389.77 L131.45,388.96 L132.42,388.18 L133.40,387.46 L134.37,386.78 L135.35,386.16 L136.32,385.56 L137.30,384.98 L138.27,384.45 L139.25,383.97 L140.22,383.57 L141.20,383.24 L142.17,382.99 L143.15,382.78 L144.12,382.61 L145.10,382.47 L146.07,382.36 L147.05,382.31 L148.02,382.35 L149.00,382.47 L149.97,382.68 L150.95,382.95 L151.92,383.28 L152.90,383.64 L153.87,384.03 L154.85,384.48 L155.82,384.99 L156.80,385.56 L157.77,386.18 L158.75,386.84 L159.72,387.53 L160.70,388.25 L161.67,389.02 L162.65,389.83 L163.62,390.70 L164.60,391.61 L165.57,392.54 L166.55,393.48 L167.52,394.42 L168.50,395.38 L169.47,396.35 L170.45,397.34 L171.42,398.34 L172.40,399.35 L173.37,400.35 L174.35,401.34 L175.32,402.33 L176.30,403.31 L177.27,404.29 L178.25,405.24 L179.22,406.17 L180.20,407.07 L181.17,407.93 L182.15,408.77 L183.12,409.58 L184.10,410.38 L185.07,411.16 L186.05,411.94 L187.02,412.72 L188.00,413.51 L188.97,414.33 L189.95,415.17 L190.92,416.02 L191.90,416.87 L192.87,417.68 L193.85,418.44 L194.82,419.12 L195.80,419.71 L196.77,420.23 L197.75,420.69 L198.72,421.12 L199.70,421.52 L200.67,421.90 L201.65,422.26 L202.62,422.60 L203.60,422.90 L204.57,423.18 L205.55,423.43 L206.52,423.65 L207.50,423.84 L208.47,424.02 L209.45,424.18 L210.42,424.34 L211.40,424.49 L212.37,424.63 L213.35,424.76 L214.32,424.88 L215.30,424.98 L216.27,425.07 L217.25,425.13 L218.22,425.18 L219.20,425.20 L220.17,425.20 L221.15,425.18 L222.12,425.15 L223.10,425.10 L224.07,425.05 L225.05,424.98 L226.02,424.91 L227.00,424.83 L227.97,424.74 L228.95,424.65 L229.92,424.55 L230.90,424.44 L231.87,424.34 L232.85,424.23 L233.82,424.12 L234.80,424.02 L235.77,423.91 L236.75,423.81 L237.72,423.70 L238.70,423.58 L239.67,423.46 L240.65,423.33 L241.62,423.19 L242.60,423.05 L243.57,422.90 L244.55,422.75 L245.52,422.60 L246.50,422.44 L247.47,422.29 L248.45,422.13 L249.42,421.98 L250.40,421.82 L251.37,421.67 L252.35,421.52 L253.32,421.37 L254.30,421.22 L255.27,421.07 L256.25,420.92 L257.22,420.76 L258.20,420.61 L259.17,420.45 L260.15,420.29 L261.12,420.14 L262.10,419.98 L263.07,419.82 L264.05,419.66 L265.02,419.50 L266.00,419.35 L266.97,419.19 L267.95,419.03 L268.92,418.87 L269.90,418.72 L270.87,418.56 L271.85,418.40 L272.82,418.24 L273.80,418.07 L274.77,417.90 L275.75,417.74 L276.72,417.57 L277.70,417.40 L278.67,417.23 L279.65,417.06 L280.62,416.89 L281.60,416.72 L282.57,416.56 L283.55,416.39 L284.52,416.23 L285.50,416.07 L286.47,415.91 L287.45,415.76 L288.42,415.61 L289.40,415.46 L290.37,415.32 L291.35,415.18 L292.32,415.05 L293.30,414.93 L294.27,414.80 L295.25,414.69 L296.22,414.57 L297.20,414.46 L298.17,414.34 L299.15,414.24 L300.12,414.13 L301.10,414.03 L302.07,413.92 L303.05,413.82 L304.02,413.72 L305.00,413.63 L305.97,413.53 L306.95,413.44 L307.92,413.35 L308.90,413.25 L309.87,413.16 L310.85,413.08 L311.82,412.99 L312.80,412.90 L313.77,412.81 L314.75,412.73 L315.72,412.64 L316.70,412.55 L317.67,412.47 L318.65,412.38 L319.62,412.30 L320.60,412.22 L321.57,412.14 L322.55,412.06 L323.52,411.98 L324.50,411.90 L325.47,411.83 L326.45,411.76 L327.42,411.69 L328.40,411.62 L329.37,411.56 L330.35,411.50 L331.32,411.44 L332.30,411.39 L333.27,411.34 L334.25,411.28 L335.22,411.23 L336.20,411.18 L337.17,411.13 L338.15,411.08 L339.12,411.03 L340.10,410.99 L341.07,410.94 L342.05,410.90 L343.02,410.86 L343.99,410.82 L344.97,410.78 L345.94,410.75 L346.92,410.71 L347.89,410.68 L348.87,410.66 L349.84,410.63 L350.82,410.61 L351.79,410.59 L352.77,410.58 L353.74,410.56 L354.72,410.54 L355.69,410.53 L356.67,410.51 L357.64,410.49 L358.62,410.48 L359.59,410.46 L360.57,410.44 L361.54,410.43 L362.52,410.41 L363.49,410.40 L364.47,410.38 L365.44,410.37 L366.42,410.36 L367.39,410.34 L368.37,410.33 L369.34,410.31 L370.32,410.30 L371.29,410.29 L372.27,410.28 L373.24,410.26 L374.22,410.25 L375.19,410.24 L376.17,410.23 L377.14,410.21 L378.12,410.20 L379.09,410.19 L380.07,410.18 L381.04,410.17 L382.02,410.16 L382.99,410.15 L383.97,410.14 L384.94,410.13 L385.92,410.12 L386.89,410.11 L387.87,410.11 L388.84,410.10 L389.82,410.09 L390.79,410.08 L391.77,410.08 L392.74,410.07 L393.72,410.06 L394.69,410.06 L395.67,410.05 L396.64,410.04 L397.62,410.04 L398.59,410.03 L399.57,410.03 L400.54,410.02 L401.52,410.02 L402.49,410.02 L403.47,410.01 L404.44,410.01 L405.42,410.01 L406.39,410.01 L407.37,410.00 L408.34,410.00 L409.32,410.00 L410.29,410.00 L411.27,410.00" stroke="#f00" stroke-width="3.4"/>
<path d="M71.00,410.23 L71.97,410.36 L72.95,410.55 L73.92,410.77 L74.90,411.01 L75.87,411.27 L76.85,411.55 L77.82,411.86 L78.80,412.19 L79.77,412.54 L80.75,412.91 L81.72,413.29 L82.70,413.69 L83.67,414.11 L84.65,414.53 L85.62,414.94 L86.60,415.35 L87.57,415.74 L88.55,416.13 L89.52,416.50 L90.50,416.82 L91.47,417.08 L92.45,417.27 L93.42,417.40 L94.40,417.50 L95.37,417.57 L96.35,417.59 L97.32,417.54 L98.30,417.39 L99.27,417.15 L100.25,416.84 L101.22,416.49 L102.20,416.12 L103.17,415.75 L104.15,415.38 L105.12,414.99 L106.10,414.58 L107.07,414.13 L108.05,413.64 L109.02,413.08 L110.00,412.43 L110.97,411.66 L111.95,410.76 L112.92,409.76 L113.90,408.70 L114.87,407.64 L115.85,406.59 L116.82,405.59 L117.80,404.63 L118.77,403.68 L119.75,402.73 L120.72,401.78 L121.70,400.83 L122.67,399.89 L123.65,398.94 L124.62,397.95 L125.60,396.90 L126.57,395.73 L127.55,394.42 L128.52,393.00 L129.50,391.53 L130.47,390.09 L131.45,388.75 L132.42,387.54 L133.40,386.45 L134.37,385.47 L135.35,384.56 L136.32,383.70 L137.30,382.90 L138.27,382.15 L139.25,381.48 L140.22,380.88 L141.20,380.35 L142.17,379.89 L143.15,379.49 L144.12,379.14 L145.10,378.84 L146.07,378.59 L147.05,378.41 L148.02,378.32 L149.00,378.28 L149.97,378.29 L150.95,378.33 L151.92,378.41 L152.90,378.59 L153.87,378.87 L154.85,379.25 L155.82,379.70 L156.80,380.22 L157.77,380.80 L158.75,381.42 L159.72,382.08 L160.70,382.75 L161.67,383.44 L162.65,384.17 L163.62,384.99 L164.60,385.93 L165.57,386.98 L166.55,388.14 L167.52,389.37 L168.50,390.64 L169.47,391.94 L170.45,393.29 L171.42,394.68 L172.40,396.10 L173.37,397.56 L174.35,399.03 L175.32,400.50 L176.30,401.95 L177.27,403.36 L178.25,404.71 L179.22,405.96 L180.20,407.08 L181.17,408.07 L182.15,408.97 L183.12,409.79 L184.10,410.57 L185.07,411.31 L186.05,412.04 L187.02,412.77 L188.00,413.51 L188.97,414.27 L189.95,415.04 L190.92,415.81 L191.90,416.56 L192.87,417.29 L193.85,417.97 L194.82,418.58 L195.80,419.13 L196.77,419.62 L197.75,420.07 L198.72,420.49 L199.70,420.89 L200.67,421.28 L201.65,421.64 L202.62,421.98 L203.60,422.29 L204.57,422.57 L205.55,422.83 L206.52,423.05 L207.50,423.24 L208.47,423.42 L209.45,423.58 L210.42,423.74 L211.40,423.89 L212.37,424.03 L213.35,424.16 L214.32,424.28 L215.30,424.38 L216.27,424.47 L217.25,424.53 L218.22,424.58 L219.20,424.60 L220.17,424.60 L221.15,424.58 L222.12,424.55 L223.10,424.50 L224.07,424.45 L225.05,424.38 L226.02,424.31 L227.00,424.23 L227.97,424.14 L228.95,424.05 L229.92,423.95 L230.90,423.84 L231.87,423.74 L232.85,423.63 L233.82,423.52 L234.80,423.42 L235.77,423.31 L236.75,423.21 L237.72,423.10 L238.70,422.98 L239.67,422.86 L240.65,422.73 L241.62,422.59 L242.60,422.45 L243.57,422.30 L244.55,422.15 L245.52,422.00 L246.50,421.84 L247.47,421.69 L248.45,421.53 L249.42,421.38 L250.40,421.22 L251.37,421.07 L252.35,420.92 L253.32,420.77 L254.30,420.62 L255.27,420.47 L256.25,420.32 L257.22,420.16 L258.20,420.01 L259.17,419.85 L260.15,419.69 L261.12,419.54 L262.10,419.38 L263.07,419.22 L264.05,419.06 L265.02,418.90 L266.00,418.75 L266.97,418.59 L267.95,418.43 L268.92,418.27 L269.90,418.12 L270.87,417.96 L271.85,417.79 L272.82,417.63 L273.80,417.46 L274.77,417.28 L275.75,417.11 L276.72,416.93 L277.70,416.75 L278.67,416.57 L279.65,416.40 L280.62,416.22 L281.60,416.05 L282.57,415.87 L283.55,415.70 L284.52,415.54 L285.50,415.38 L286.47,415.22 L287.45,415.07 L288.42,414.93 L289.40,414.79 L290.37,414.66 L291.35,414.54 L292.32,414.43 L293.30,414.32 L294.27,414.23 L295.25,414.14 L296.22,414.05 L297.20,413.97 L298.17,413.89 L299.15,413.82 L300.12,413.75 L301.10,413.68 L302.07,413.61 L303.05,413.55 L304.02,413.49 L305.00,413.42 L305.97,413.36 L306.95,413.30 L307.92,413.24 L308.90,413.17 L309.87,413.11 L310.85,413.04 L311.82,412.97 L312.80,412.90 L313.77,412.83 L314.75,412.75 L315.72,412.67 L316.70,412.59 L317.67,412.51 L318.65,412.42 L319.62,412.34 L320.60,412.26 L321.57,412.17 L322.55,412.09 L323.52,412.01 L324.50,411.93 L325.47,411.85 L326.45,411.78 L327.42,411.70 L328.40,411.63 L329.37,411.57 L330.35,411.50 L331.32,411.44 L332.30,411.39 L333.27,411.34 L334.25,411.28 L335.22,411.23 L336.20,411.18 L337.17,411.13 L338.15,411.08 L339.12,411.03 L340.10,410.99 L341.07,410.94 L342.05,410.90 L343.02,410.86 L343.99,410.82 L344.97,410.78 L345.94,410.75 L346.92,410.71 L347.89,410.68 L348.87,410.66 L349.84,410.63 L350.82,410.61 L351.79,410.59 L352.77,410.58 L353.74,410.56 L354.72,410.54 L355.69,410.53 L356.67,410.51 L357.64,410.49 L358.62,410.48 L359.59,410.46 L360.57,410.44 L361.54,410.43 L362.52,410.41 L363.49,410.40 L364.47,410.38 L365.44,410.37 L366.42,410.36 L367.39,410.34 L368.37,410.33 L369.34,410.31 L370.32,410.30 L371.29,410.29 L372.27,410.28 L373.24,410.26 L374.22,410.25 L375.19,410.24 L376.17,410.23 L377.14,410.21 L378.12,410.20 L379.09,410.19 L380.07,410.18 L381.04,410.17 L382.02,410.16 L382.99,410.15 L383.97,410.14 L384.94,410.13 L385.92,410.12 L386.89,410.11 L387.87,410.11 L388.84,410.10 L389.82,410.09 L390.79,410.08 L391.77,410.08 L392.74,410.07 L393.72,410.06 L394.69,410.06 L395.67,410.05 L396.64,410.04 L397.62,410.04 L398.59,410.03 L399.57,410.03 L400.54,410.02 L401.52,410.02 L402.49,410.02 L403.47,410.01 L404.44,410.01 L405.42,410.01 L406.39,410.01 L407.37,410.00 L408.34,410.00 L409.32,410.00 L410.29,410.00 L411.27,410.00" stroke="#f00" stroke-width="3.4" stroke-dasharray="15.7 7.8" stroke-dashoffset="-3.5"/>
</g>
<path d="M70.75,538.9v-9.6 M70.75,318.55v9.6 M207.31,538.9v-9.6 M207.31,318.55v9.6 M343.87,538.9v-9.6 M343.87,318.55v9.6 M139.03,538.9v-4.7 M139.03,318.55v4.7 M275.59,538.9v-4.7 M275.59,318.55v4.7 M412.15,538.9v-4.7 M412.15,318.55v4.7 M70.75,538.90h9.6 M412.15,538.90h-9.6 M70.75,529.72h4.7 M412.15,529.72h-4.7 M70.75,520.54h9.6 M412.15,520.54h-9.6 M70.75,511.36h4.7 M412.15,511.36h-4.7 M70.75,502.17h9.6 M412.15,502.17h-9.6 M70.75,492.99h4.7 M412.15,492.99h-4.7 M70.75,483.81h9.6 M412.15,483.81h-9.6 M70.75,474.63h4.7 M412.15,474.63h-4.7 M70.75,465.45h9.6 M412.15,465.45h-9.6 M70.75,456.27h4.7 M412.15,456.27h-4.7 M70.75,447.09h9.6 M412.15,447.09h-9.6 M70.75,437.91h4.7 M412.15,437.91h-4.7 M70.75,428.73h9.6 M412.15,428.73h-9.6 M70.75,419.54h4.7 M412.15,419.54h-4.7 M70.75,410.36h9.6 M412.15,410.36h-9.6 M70.75,401.18h4.7 M412.15,401.18h-4.7 M70.75,392.00h9.6 M412.15,392.00h-9.6 M70.75,382.82h4.7 M412.15,382.82h-4.7 M70.75,373.64h9.6 M412.15,373.64h-9.6 M70.75,364.46h4.7 M412.15,364.46h-4.7 M70.75,355.28h9.6 M412.15,355.28h-9.6 M70.75,346.09h4.7 M412.15,346.09h-4.7 M70.75,336.91h9.6 M412.15,336.91h-9.6 M70.75,327.73h4.7 M412.15,327.73h-4.7 M70.75,318.55h9.6 M412.15,318.55h-9.6" stroke="#000" stroke-width="1" fill="none"/>
<rect x="70.75" y="318.55" width="341.4" height="220.34999999999997" fill="none" stroke="#000" stroke-width="2.4"/>
<text transform="translate(66.5,324.85) scale(0.945,1)" font-size="18.6" text-anchor="end">0.1</text>
<text transform="translate(66.5,343.21) scale(0.945,1)" font-size="18.6" text-anchor="end">0.08</text>
<text transform="translate(66.5,361.58) scale(0.945,1)" font-size="18.6" text-anchor="end">0.06</text>
<text transform="translate(66.5,379.94) scale(0.945,1)" font-size="18.6" text-anchor="end">0.04</text>
<text transform="translate(66.5,398.30) scale(0.945,1)" font-size="18.6" text-anchor="end">0.02</text>
<text transform="translate(66.5,416.66) scale(0.945,1)" font-size="18.6" text-anchor="end">0</text>
<text transform="translate(66.5,435.03) scale(0.945,1)" font-size="18.6" text-anchor="end">-0.02</text>
<text transform="translate(66.5,453.39) scale(0.945,1)" font-size="18.6" text-anchor="end">-0.04</text>
<text transform="translate(66.5,471.75) scale(0.945,1)" font-size="18.6" text-anchor="end">-0.06</text>
<text transform="translate(66.5,490.11) scale(0.945,1)" font-size="18.6" text-anchor="end">-0.08</text>
<text transform="translate(66.5,508.47) scale(0.945,1)" font-size="18.6" text-anchor="end">-0.1</text>
<text transform="translate(66.5,526.84) scale(0.945,1)" font-size="18.6" text-anchor="end">-0.12</text>
<text transform="translate(66.5,545.20) scale(0.945,1)" font-size="18.6" text-anchor="end">-0.14</text>
<text transform="translate(70.75,556.50) scale(0.945,1)" font-size="18.6" text-anchor="middle">0</text>
<text transform="translate(207.31,556.50) scale(0.945,1)" font-size="18.6" text-anchor="middle">4</text>
<text transform="translate(343.87,556.50) scale(0.945,1)" font-size="18.6" text-anchor="middle">8</text>
<text x="241.8" y="573" font-size="17.6" text-anchor="middle">r (fm)</text>
<text x="369" y="506.7" font-size="14.6" text-anchor="middle">(b)</text>
<rect x="314.5" y="343.5" width="70" height="39" fill="#fff" stroke="#000" stroke-width="1"/>
<path d="M321,355H340.5" stroke="#00f" stroke-width="1.02"/>
<path d="M321,372.1H340.5" stroke="#f00" stroke-width="3.4"/>
<text x="350.4" y="360.5" font-size="17.6">isos</text>
<text x="350.4" y="377.7" font-size="17.6">isov</text>
<g transform="translate(21.2,477.8) rotate(-90)"><text x="-0.1" y="0" font-size="17.8">r</text><text x="5.9" y="-11" font-size="13">2</text><text x="14.8" y="0" font-size="17.8">x</text><text x="23.5" y="0" font-size="17.8">&#948;</text><text x="33.1" y="0" font-size="17.8">&#961;</text><text x="51.7" y="0" font-size="17.8">(</text><text x="58.4" y="0" font-size="17.8">f</text><text x="64.0" y="0" font-size="17.8">m</text><text x="82.2" y="-11" font-size="13">-</text><text x="85.4" y="-11" font-size="13">1</text><text x="92.8" y="0" font-size="17.8">)</text></g>
</svg></body></html>
